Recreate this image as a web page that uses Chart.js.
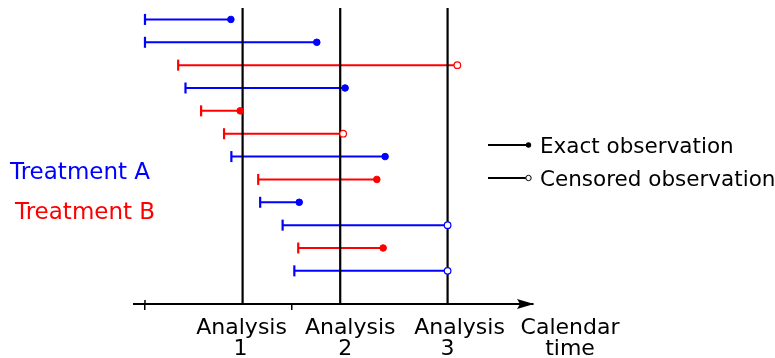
<!DOCTYPE html>
<html><head><meta charset="utf-8">
<script src="https://cdn.jsdelivr.net/npm/chart.js@4"></script>
<style>html,body{margin:0;padding:0;background:#fff;}</style>
</head><body>
<canvas id="c" width="775" height="358"></canvas>
<script>
// ---- data ----
const subjects      = [1, 2, 3, 4, 5, 6, 7, 8, 9, 10, 11, 12];
const treatment     = ['A','A','B','A','B','B','A','B','A','A','B','A'];
const entryTimes    = [0.00, 0.00, 0.68, 0.83, 1.15, 1.62, 1.77, 2.32, 2.36, 2.82, 3.14, 3.06];
const exitTimes     = [1.76, 3.52, 6.40, 4.10, 1.95, 4.06, 4.92, 4.75, 3.16, 6.20, 4.88, 6.20];
const censored      = [false,false,true,false,false,true,false,false,false,true,false,true];
const analysisTimes = [2, 4, 6.2];
const analysisLabels = [['Analysis','1'], ['Analysis','2'], ['Analysis','3']];
const axisTitle     = ['Calendar', 'time'];
const axisTickValues = [0, 3];
const groupLabels   = ['Treatment A', 'Treatment B'];
const legendLabels  = ['Exact observation', 'Censored observation'];

// ---- styles ----
const groupColors = { A: '#0000ff', B: '#ff0000' };
const FONT = '22px "DejaVu Sans"';
const X_MIN = -0.225, X_MAX = 7.95, Y_MIN = 0.5, Y_MAX = 13.45;

const datasets = [];
subjects.forEach((s, i) => {
  datasets.push({
    data: [{x: entryTimes[i], y: s}, {x: exitTimes[i], y: s}],
    showLine: true, borderColor: groupColors[treatment[i]], borderWidth: 2,
    pointRadius: 0, order: 3, clip: false
  });
});
analysisTimes.forEach(t => {
  datasets.push({
    data: [{x: t, y: Y_MIN}, {x: t, y: Y_MAX}],
    showLine: true, borderColor: '#000', borderWidth: 2.2,
    pointRadius: 0, order: 2, clip: false
  });
});
datasets.push({
  data: subjects.map((s, i) => ({x: entryTimes[i], y: s})),
  showLine: false, pointStyle: 'line', pointRotation: 90, pointRadius: 5.5,
  pointBorderWidth: 2.2, pointBorderColor: treatment.map(t => groupColors[t]),
  order: 1, clip: false
});
datasets.push({
  data: subjects.map((s, i) => ({x: exitTimes[i], y: s})),
  showLine: false, pointStyle: 'circle',
  pointRadius: censored.map(c => c ? 3.3 : 3.3),
  pointBorderWidth: censored.map(c => c ? 1.2 : 1),
  pointBorderColor: treatment.map(t => groupColors[t]),
  pointBackgroundColor: treatment.map((t, i) => censored[i] ? '#ffffff' : groupColors[t]),
  order: 0, clip: false
});

const annot = {
  id: 'annot',
  afterDraw(chart) {
    const ctx = chart.ctx, xs = chart.scales.x, ca = chart.chartArea;
    ctx.save();
    // axis tick extending above the axis at the origin
    ctx.strokeStyle = '#000'; ctx.lineWidth = 1.5;
    ctx.beginPath();
    const p0 = xs.getPixelForValue(axisTickValues[0]);
    ctx.moveTo(p0, ca.bottom - 4); ctx.lineTo(p0, ca.bottom); ctx.stroke();
    // arrow head
    const yA = ca.bottom;
    ctx.fillStyle = '#000';
    ctx.beginPath();
    ctx.moveTo(ca.right + 1, yA);
    ctx.lineTo(ca.right - 16, yA - 5);
    ctx.lineTo(ca.right - 13, yA);
    ctx.lineTo(ca.right - 16, yA + 5);
    ctx.closePath(); ctx.fill();

    ctx.font = FONT;
    ctx.textBaseline = 'alphabetic';
    // analysis labels
    const wordOff = [-1, 10, 12], digOff = [-2, 5, 0];
    ctx.textAlign = 'center';
    analysisTimes.forEach((t, i) => {
      const px = xs.getPixelForValue(t);
      ctx.fillText(analysisLabels[i][0], px + wordOff[i], 334);
      ctx.fillText(analysisLabels[i][1], px + digOff[i], 355);
    });
    ctx.fillText(axisTitle[0], ca.right + 37, 334);
    ctx.fillText(axisTitle[1], ca.right + 37, 355);

    // group labels
    ctx.font = '23px "DejaVu Sans"';
    ctx.textAlign = 'left';
    ctx.fillStyle = groupColors.A; ctx.fillText(groupLabels[0], 10, 179);
    ctx.fillStyle = groupColors.B; ctx.fillText(groupLabels[1], 15, 219);

    // legend
    const ly = [145, 178];
    ctx.strokeStyle = '#000'; ctx.fillStyle = '#000';
    ly.forEach((y, i) => {
      ctx.lineWidth = 1.8;
      ctx.beginPath(); ctx.moveTo(488, y); ctx.lineTo(526, y); ctx.stroke();
      ctx.beginPath(); ctx.arc(528.5, y, 2.7, 0, Math.PI * 2);
      if (i === 0) { ctx.fill(); } else { ctx.fillStyle = '#fff'; ctx.fill(); ctx.lineWidth = 1; ctx.stroke(); ctx.fillStyle = '#000'; }
      ctx.font = '21.5px "DejaVu Sans"';
      ctx.fillText(legendLabels[i], 540, y + 8);
    });
    ctx.restore();
  }
};

new Chart(document.getElementById('c'), {
  type: 'scatter',
  data: { datasets },
  options: {
    responsive: false, animation: false, events: [], devicePixelRatio: 1,
    layout: { autoPadding: false, padding: { left: 134, right: 242, top: 8, bottom: 48 } },
    plugins: { legend: { display: false }, tooltip: { enabled: false } },
    scales: {
      x: {
        type: 'linear', min: X_MIN, max: X_MAX,
        afterBuildTicks: s => { s.ticks = axisTickValues.map(v => ({ value: v })); },
        ticks: { display: false },
        grid: { drawOnChartArea: false, drawTicks: true, tickLength: 6, color: '#000', lineWidth: 1.5 },
        border: { display: true, color: '#000', width: 2 }
      },
      y: { type: 'linear', min: Y_MIN, max: Y_MAX, reverse: true, display: false }
    }
  },
  plugins: [annot]
});
</script>
</body></html>
